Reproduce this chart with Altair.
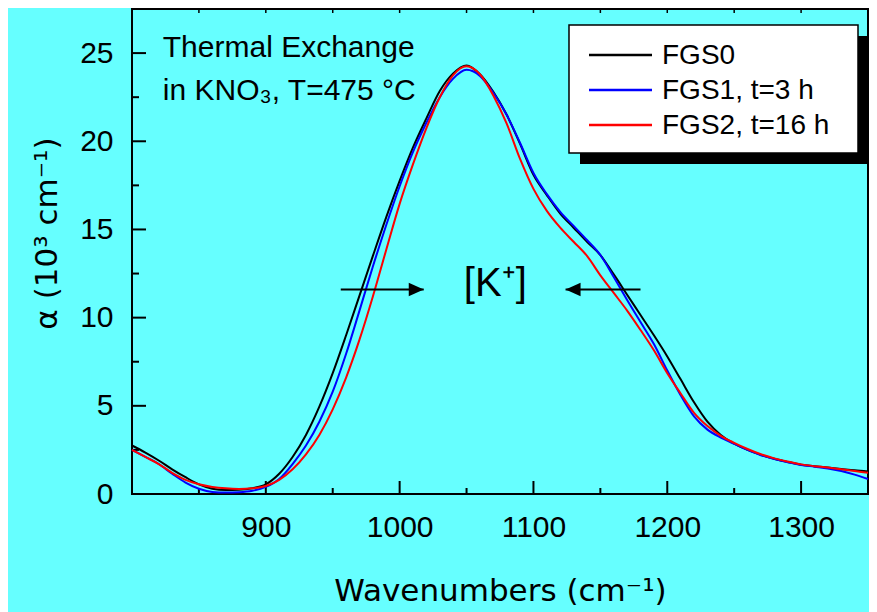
import altair as alt
import pandas as pd

# ---------------- data ----------------
wavenumber = [800, 810, 820, 830, 840, 850, 860, 870, 880, 890,
              900, 910, 920, 930, 940, 950, 960, 970, 980, 990,
              1000, 1010, 1020, 1030, 1040, 1050, 1060, 1070, 1080, 1090,
              1100, 1110, 1120, 1130, 1140, 1150, 1160, 1170, 1180, 1190,
              1200, 1210, 1220, 1230, 1240, 1250, 1260, 1270, 1280, 1290,
              1300, 1310, 1320, 1330, 1340, 1350]

fgs0 = [2.75, 2.35, 1.9, 1.4, 0.95, 0.55, 0.3, 0.23, 0.24, 0.33,
        0.55, 1.15, 2.1, 3.35, 4.95, 6.85, 9.0, 11.25, 13.5, 15.7,
        17.75, 19.65, 21.3, 22.85, 23.85, 24.3, 23.8, 22.8, 21.5, 19.85,
        18.1, 16.95, 15.9, 15.1, 14.3, 13.55, 12.45, 11.3, 10.15, 9.0,
        7.8, 6.5, 5.2, 4.1, 3.35, 2.85, 2.5, 2.22, 2.0, 1.82,
        1.66, 1.58, 1.5, 1.42, 1.34, 1.28]

fgs1 = [2.5, 2.1, 1.7, 1.15, 0.65, 0.3, 0.12, 0.08, 0.1, 0.18,
        0.4, 0.85, 1.7, 2.75, 4.1, 5.8, 7.95, 10.4, 12.9, 15.25,
        17.45, 19.4, 21.05, 22.5, 23.55, 24.05, 23.7, 22.75, 21.5, 19.9,
        18.2, 17.0, 16.0, 15.2, 14.4, 13.55, 12.3, 11.0, 9.75, 8.5,
        7.0, 5.6, 4.4, 3.65, 3.2, 2.85, 2.5, 2.2, 1.98, 1.8,
        1.65, 1.55, 1.45, 1.3, 1.1, 0.85]

fgs2 = [2.5, 2.1, 1.7, 1.2, 0.8, 0.55, 0.4, 0.32, 0.29, 0.32,
        0.45, 0.8, 1.4, 2.25, 3.35, 4.8, 6.6, 8.75, 11.2, 13.85,
        16.45, 18.7, 20.75, 22.5, 23.75, 24.25, 23.8, 22.6, 21.0, 19.0,
        17.3, 16.05, 15.1, 14.3, 13.5, 12.4, 11.4, 10.4, 9.3, 8.15,
        6.85, 5.7, 4.6, 3.85, 3.3, 2.9, 2.55, 2.25, 2.02, 1.84,
        1.68, 1.58, 1.5, 1.4, 1.3, 1.2]

series_names = ["FGS0", "FGS1, t=3 h", "FGS2, t=16 h"]
series_colors = ["#000000", "#0000FF", "#FF0000"]

x_label_values = [900, 1000, 1100, 1200, 1300]
y_label_values = [0, 5, 10, 15, 20, 25]
x_major_ticks = [800, 900, 1000, 1100, 1200, 1300]
x_minor_ticks = [850, 950, 1050, 1150, 1250]
y_major_ticks = [0, 5, 10, 15, 20, 25]
y_minor_ticks = [2.5, 7.5, 12.5, 17.5, 22.5]
x_top_ticks = [850, 900, 950, 1000, 1050, 1100, 1150, 1200, 1250, 1300]

arrow_tail_x = [956, 1180]
arrow_tip_x = [1018, 1124]
arrow_y = [11.6, 11.6]

# ---------------- tables ----------------
rows = []
for name, vals in zip(series_names, [fgs0, fgs1, fgs2]):
    for xv, yv in zip(wavenumber, vals):
        rows.append({"x": xv, "y": yv, "series": name})
lines_df = pd.DataFrame(rows)

W, H = 736, 485
BG = "#66FFFF"
FONT = "Liberation Sans"

x_scale = alt.Scale(domain=[800, 1350], nice=False, zero=False)
y_scale = alt.Scale(domain=[0, 27.5], nice=False, zero=False)

lines = alt.Chart(lines_df).mark_line(strokeWidth=2, interpolate="monotone").encode(
    x=alt.X("x:Q", scale=x_scale,
            title="Wavenumbers (cm\u207b\u00b9)",
            axis=alt.Axis(values=x_label_values, format="d", ticks=False, tickSize=0,
                          domain=False, grid=False, labelFont=FONT, labelFontSize=30,
                          labelColor="black", labelPadding=18,
                          titleFont="DejaVu Sans", titleFontSize=31,
                          titleFontWeight="normal", titleColor="black",
                          titleBaseline="alphabetic", titleY=106)),
    y=alt.Y("y:Q", scale=y_scale,
            title="\u03b1 (10\u00b3 cm\u207b\u00b9)",
            axis=alt.Axis(values=y_label_values, format="d", ticks=False, tickSize=0,
                          domain=False, grid=False, labelFont=FONT, labelFontSize=30,
                          labelColor="black", labelPadding=19,
                          titleFont="DejaVu Sans", titleFontSize=31,
                          titleFontWeight="normal", titleColor="black",
                          titleAngle=270, titleBaseline="bottom",
                          titleX=-69, titleY=224)),
    color=alt.Color("series:N",
                    scale=alt.Scale(domain=series_names, range=series_colors),
                    legend=None),
    order=alt.Order("series:N"),
)

one = alt.Data(values=[{}])

# legend (box, shadow, entries)
LX0, LX1, LY0, LY1 = 437, 726, 16, 144
shadow = alt.Chart(one).mark_rect(fill="black").encode(
    x=alt.value(LX0 + 11), x2=alt.value(LX1 + 10), y=alt.value(LY0 + 11), y2=alt.value(LY1 + 11))
box = alt.Chart(one).mark_rect(fill="white", stroke="black", strokeWidth=1.5).encode(
    x=alt.value(LX0), x2=alt.value(LX1), y=alt.value(LY0), y2=alt.value(LY1))
legend_layers = []
for i, (name, col) in enumerate(zip(series_names, series_colors)):
    yy = 46 + 35 * i
    legend_layers.append(alt.Chart(one).mark_rule(color=col, strokeWidth=2.5).encode(
        x=alt.value(LX0 + 20), x2=alt.value(LX0 + 83), y=alt.value(yy)))
    legend_layers.append(alt.Chart(one).mark_text(
        text=name, align="left", baseline="middle", font=FONT, fontSize=28, color="black"
    ).encode(x=alt.value(LX0 + 93), y=alt.value(yy + 1)))

def xticks(vals, length):
    return alt.Chart(pd.DataFrame({"x": vals})).mark_rule(color="black", strokeWidth=2).encode(
        x="x:Q", y=alt.value(H), y2=alt.value(H - length))

def yticks(vals, length):
    return alt.Chart(pd.DataFrame({"y": vals})).mark_rule(color="black", strokeWidth=2).encode(
        y="y:Q", x=alt.value(0), x2=alt.value(length))

top_ticks = alt.Chart(pd.DataFrame({"x": x_top_ticks})).mark_rule(color="black", strokeWidth=1.5).encode(
    x="x:Q", y=alt.value(0), y2=alt.value(4))

txt = dict(font=FONT, color="black", baseline="alphabetic")
t1 = alt.Chart(one).mark_text(text="Thermal Exchange", align="left", fontSize=30, **txt).encode(
    x=alt.datum(823.0), y=alt.datum(24.8))
t2 = alt.Chart(one).mark_text(text="in KNO\u2083, T=475 \u00b0C", align="left", fontSize=30, **txt).encode(
    x=alt.datum(823.0), y=alt.datum(22.34))
t3 = alt.Chart(one).mark_text(text="[K\u207a]", align="center", fontSize=40, **txt).encode(
    x=alt.datum(1071.5), y=alt.datum(11.2))

arrows_df = pd.DataFrame({"x": arrow_tail_x, "x2": arrow_tip_x, "y": arrow_y,
                          "dir": ["right", "left"]})
shafts = alt.Chart(arrows_df).mark_rule(color="black", strokeWidth=2).encode(
    x="x:Q", x2="x2:Q", y="y:Q")
head_r = alt.Chart(arrows_df).transform_filter("datum.dir == 'right'").mark_point(
    shape="M 0 0 L -1 -0.45 L -1 0.45 Z", filled=True, color="black", opacity=1, size=900
).encode(x=alt.X("x2:Q"), y="y:Q")
head_l = alt.Chart(arrows_df).transform_filter("datum.dir == 'left'").mark_point(
    shape="M 0 0 L 1 -0.45 L 1 0.45 Z", filled=True, color="black", opacity=1, size=900
).encode(x=alt.X("x2:Q"), y="y:Q")

chart = alt.layer(
    xticks(x_major_ticks, 13), xticks(x_minor_ticks, 6),
    yticks(y_major_ticks, 14), yticks(y_minor_ticks, 7), top_ticks,
    lines, shadow, box, *legend_layers, t1, t2, t3, shafts, head_r, head_l,
).properties(
    width=W, height=H,
    autosize=alt.AutoSizeParams(type="none"),
    padding={"left": 124, "top": 1, "right": 1, "bottom": 118},
    background=BG,
).configure_view(stroke="black", strokeWidth=2, fill=BG)

chart.save("out.html", embed_options={"renderer": "svg", "actions": False})
